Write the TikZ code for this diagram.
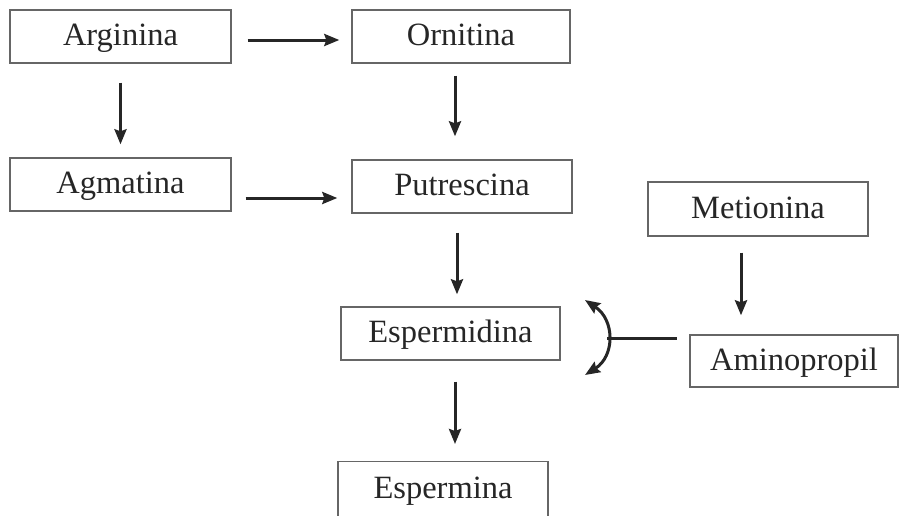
\documentclass[tikz,border=0pt]{standalone}
\usepackage{fontspec}
\setmainfont{Liberation Serif}
\usetikzlibrary{arrows.meta}
\begin{document}
\begin{tikzpicture}[x=1pt,y=-1pt,
  box/.style={draw=black!60, line width=1.4pt, fill=white, text=black!85,
    font=\fontsize{32.5}{38}\selectfont, inner sep=0pt,
    text height=22pt, text depth=4pt},
  flow/.style={line width=3pt, black!85, -{Stealth[length=15pt,width=12pt,inset=2pt]}},
  flowtwo/.style={line width=3pt, black!85, {Stealth[length=15pt,width=12pt,inset=2pt]}-{Stealth[length=15pt,width=12pt,inset=2pt]}}]
\useasboundingbox (0,0) rectangle (899,515);
\begin{scope}
\clip (0,0) rectangle (899,515);
\node[box, minimum width=221pt, minimum height=53pt] (arg) at (120.5,36.5) {Arginina};
\node[box, minimum width=218pt, minimum height=53pt] (orn) at (461,36.5) {Ornitina};
\node[box, minimum width=221pt, minimum height=53pt] (agm) at (120.5,184.5) {Agmatina};
\node[box, minimum width=220pt, minimum height=53pt] (put) at (462,186.5) {Putrescina};
\node[box, minimum width=220pt, minimum height=54pt] (met) at (758,209) {Metionina};
\node[box, minimum width=219pt, minimum height=53pt] (espd) at (450.5,333.5) {Espermidina};
\node[box, minimum width=208pt, minimum height=52pt] (amino) at (794,361) {Aminopropil};
\node[box, minimum width=210pt, anchor=north, inner ysep=15pt, text depth=40pt] (espm) at (443,461) {Espermina};
\end{scope}
% arrows
\draw[flow] ([xshift=16pt,yshift=-3.5pt]arg.east) -- ([xshift=-12pt,yshift=-3.5pt]orn.west);
\draw[flow] ([yshift=-19pt]arg.south) -- ([yshift=13pt]agm.north);
\draw[flow] ([xshift=-6pt,yshift=-12pt]orn.south) -- ([xshift=-7pt,yshift=23pt]put.north);
\draw[flow] ([xshift=14pt,yshift=-13.5pt]agm.east) -- ([xshift=-14pt,yshift=-11.5pt]put.west);
\draw[flow] ([xshift=-5pt,yshift=-19pt]put.south) -- ([xshift=6.5pt,yshift=12pt]espd.north);
\draw[flow] ([xshift=-17pt,yshift=-16pt]met.south) -- ([xshift=-53pt,yshift=19pt]amino.north);
\draw[flow] ([xshift=4.5pt,yshift=-21pt]espd.south) -- ([xshift=12pt,yshift=17pt]espm.north);
% curved double arrow
\coordinate (j) at (607,338);
\coordinate (cu) at (585,300);
\coordinate (cd) at (585,375);
\draw[line width=3pt, black!85] (j) -- ([xshift=-12pt,yshift=23pt]amino.west);
\draw[flowtwo] (cu) .. controls (615,320) and (615,356) .. (cd);
\end{tikzpicture}
\end{document}
